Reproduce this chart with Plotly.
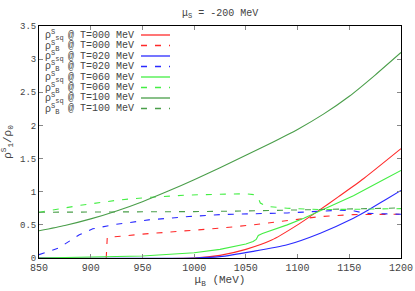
import plotly.graph_objects as go

# ---- data ----
t0_sq_x = [850, 1000, 1025, 1050, 1075, 1100, 1119, 1140, 1164, 1200]
t0_sq_y = [0.0, 0.0, 0.04, 0.13, 0.27, 0.50, 0.70, 0.93, 1.20, 1.65]
t0_b_x = [915, 916, 930, 950, 1000, 1025, 1057, 1090, 1122, 1154, 1200]
t0_b_y = [0.0, 0.31, 0.33, 0.36, 0.42, 0.45, 0.50, 0.565, 0.625, 0.655, 0.66]

t20_sq_x = [850, 1000, 1025, 1057, 1090, 1122, 1154, 1168, 1185, 1200]
t20_sq_y = [0.0, 0.0, 0.02, 0.10, 0.20, 0.375, 0.60, 0.72, 0.88, 1.02]
t20_b_x = [850, 869, 889, 902, 921, 956, 995, 1025, 1090, 1140, 1155, 1165, 1200]
t20_b_y = [0.05, 0.15, 0.35, 0.44, 0.50, 0.575, 0.625, 0.655, 0.68, 0.72, 0.71, 0.675, 0.66]

t60_sq_x = [850, 900, 950, 1000, 1025, 1050, 1057, 1060, 1062, 1066, 1077, 1090, 1106, 1122, 1154, 1183, 1200]
t60_sq_y = [0.0, 0.01, 0.03, 0.08, 0.13, 0.21, 0.25, 0.28, 0.34, 0.37, 0.425, 0.50, 0.60, 0.71, 0.94, 1.18, 1.32]
t60_b_x = [850, 870, 892, 927, 956, 995, 1024, 1050, 1058, 1062, 1064, 1070, 1090, 1122, 1154, 1200]
t60_b_y = [0.69, 0.74, 0.80, 0.875, 0.915, 0.95, 0.965, 0.97, 0.955, 0.90, 0.83, 0.78, 0.75, 0.73, 0.735, 0.745]

t100_sq_x = [850, 875, 900, 925, 950, 975, 1000, 1025, 1050, 1075, 1100, 1125, 1150, 1175, 1200]
t100_sq_y = [0.41, 0.49, 0.59, 0.71, 0.85, 1.01, 1.18, 1.36, 1.55, 1.74, 1.94, 2.17, 2.44, 2.76, 3.10]
t100_b_x = [850, 900, 950, 1000, 1050, 1100, 1150, 1200]
t100_b_y = [0.69, 0.69, 0.695, 0.70, 0.71, 0.725, 0.74, 0.755]

temps = ["000", "000", "020", "020", "060", "060", "100", "100"]
kinds = ["sq", "B", "sq", "B", "sq", "B", "sq", "B"]
colors = ["#ff2a2a", "#ff2a2a", "#2a2aff", "#2a2aff", "#44ee44", "#44ee44", "#4a9e4a", "#4a9e4a"]
smooth = [True, False, True, False, False, False, True, False]
xs = [t0_sq_x, t0_b_x, t20_sq_x, t20_b_x, t60_sq_x, t60_b_x, t100_sq_x, t100_b_x]
ys = [t0_sq_y, t0_b_y, t20_sq_y, t20_b_y, t60_sq_y, t60_b_y, t100_sq_y, t100_b_y]

x_ticks = [850, 900, 950, 1000, 1050, 1100, 1150, 1200]
y_ticks = [0, 0.5, 1, 1.5, 2, 2.5, 3, 3.5]
y_tick_text = ["0", "0.5", "1", "1.5", "2", "2.5", "3", "3.5"]

FONT = "Liberation Mono, DejaVu Sans Mono, monospace"
TXT = "#444444"

fig = go.Figure()
for x, y, c, k, t, s in zip(xs, ys, colors, kinds, temps, smooth):
    fig.add_trace(go.Scatter(
        x=x, y=y, mode="lines",
        line=dict(color=c, width=1.1, dash="solid" if k == "sq" else "6px,8px",
                  shape="spline" if s else "linear", smoothing=0.6),
        name=f"ρ^S_{k} @ T={t} MeV", showlegend=False))

W, H = 415, 291
ml, mr, mt, mb = 39, 14, 26, 33
pw, ph = W - ml - mr, H - mt - mb

def px(xp):
    return (xp - ml) / pw

def py(yp):
    return (H - mb - yp) / ph

annotations = []
shapes = []
for i, (k, t, c) in enumerate(zip(kinds, temps, colors)):
    yrow = 35 + i * 10.5
    sub = "sq" if k == "sq" else "B"
    annotations.append(dict(
        x=px(44), y=py(yrow), xref="paper", yref="paper", xanchor="left", yanchor="middle",
        text=f"ρ<sup>S</sup><sub>{sub}</sub>", showarrow=False, borderpad=0,
        font=dict(family=FONT, size=10, color=TXT)))
    annotations.append(dict(
        x=px(67), y=py(yrow), xref="paper", yref="paper", xanchor="left", yanchor="middle",
        text=f"@ T={t} MeV", showarrow=False, borderpad=0,
        font=dict(family=FONT, size=10, color=TXT)))
    shapes.append(dict(
        type="line", xref="paper", yref="paper",
        x0=px(141), x1=px(170), y0=py(yrow), y1=py(yrow),
        line=dict(color=c, width=1.3, dash="solid" if k == "sq" else "6px,8px")))

annotations.append(dict(
    x=0.5, y=py(14), xref="paper", yref="paper", xanchor="center", yanchor="middle",
    text="μ<sub>S</sub> = -200 MeV", showarrow=False,
    font=dict(family=FONT, size=10, color=TXT)))

fig.update_layout(
    width=W, height=H,
    margin=dict(l=ml, r=mr, t=mt, b=mb, autoexpand=False),
    paper_bgcolor="white", plot_bgcolor="white",
    annotations=annotations, shapes=shapes,
    xaxis=dict(range=[850, 1200], tickvals=x_ticks, ticks="inside", ticklen=4,
               automargin=False,
               showline=True, linecolor="black", linewidth=1, mirror="ticks",
               showgrid=False, zeroline=False, tickcolor="#888888",
               tickfont=dict(family=FONT, size=10, color=TXT),
               title=dict(text="μ<sub>B</sub> (MeV)", standoff=2,
                          font=dict(family=FONT, size=11, color=TXT))),
    yaxis=dict(range=[0, 3.5], tickvals=y_ticks, ticktext=y_tick_text,
               ticks="inside", ticklen=4, automargin=False,
               showline=True, linecolor="black", linewidth=1, mirror="ticks",
               showgrid=False, zeroline=False, tickcolor="#888888",
               tickfont=dict(family=FONT, size=9, color=TXT),
               title=dict(text="ρ<sup>S</sup><sub>1</sub>/ρ<sub>0</sub>", standoff=6,
                          font=dict(family=FONT, size=11, color=TXT))),
)

fig.write_html("out.html",
               config={"displayModeBar": False},
               post_script="document.body.style.margin='0';document.body.style.overflow='hidden';")
